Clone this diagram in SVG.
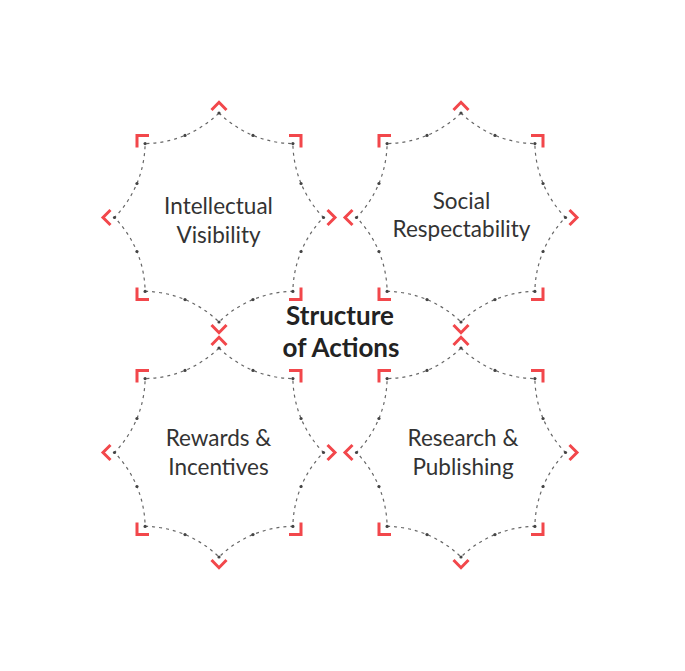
<svg xmlns="http://www.w3.org/2000/svg" xmlns:xlink="http://www.w3.org/1999/xlink" width="685" height="671" viewBox="0 0 685 671">
  <style>
    .outline { fill: none; stroke: #666; stroke-width: 1.2; stroke-dasharray: 3 4; }
    .dot { fill: #444; }
    .mark { fill: none; stroke: #f2474b; stroke-width: 3; stroke-linecap: butt; stroke-linejoin: miter; }
    .label { font-family: "Lato", "Noto Sans", "Liberation Sans", sans-serif; font-size: 22.5px; fill: #333; text-anchor: middle; }
    .title { font-family: "Lato", "Noto Sans", "Liberation Sans", sans-serif; font-size: 26px; font-weight: bold; fill: #222; text-anchor: middle; }
  </style>
  <defs>
    <g id="badge">
      <path class="outline" d="M0,-104.5 A108,108 0 0 0 73.89,-73.89 A108,108 0 0 0 104.5,0 A108,108 0 0 0 73.89,73.89 A108,108 0 0 0 0,104.5 A108,108 0 0 0 -73.89,73.89 A108,108 0 0 0 -104.5,0 A108,108 0 0 0 -73.89,-73.89 A108,108 0 0 0 0,-104.5 Z"/>
      <g class="dot">
        <circle cx="0" cy="-104.5" r="1.6"/>
        <circle cx="73.89" cy="-73.89" r="1.6"/>
        <circle cx="104.5" cy="0" r="1.6"/>
        <circle cx="73.89" cy="73.89" r="1.6"/>
        <circle cx="0" cy="104.5" r="1.6"/>
        <circle cx="-73.89" cy="73.89" r="1.6"/>
        <circle cx="-104.5" cy="0" r="1.6"/>
        <circle cx="-73.89" cy="-73.89" r="1.6"/>
        <circle cx="33.98" cy="-82.04" r="1.6"/>
        <circle cx="82.04" cy="-33.98" r="1.6"/>
        <circle cx="82.04" cy="33.98" r="1.6"/>
        <circle cx="33.98" cy="82.04" r="1.6"/>
        <circle cx="-33.98" cy="82.04" r="1.6"/>
        <circle cx="-82.04" cy="33.98" r="1.6"/>
        <circle cx="-82.04" cy="-33.98" r="1.6"/>
        <circle cx="-33.98" cy="-82.04" r="1.6"/>
      </g>
      <g class="mark">
        <path d="M-7.5,-107.5 L0,-115.2 L7.5,-107.5"/>
        <path d="M-7.5,107.5 L0,115.2 L7.5,107.5"/>
        <path d="M-108.5,-7.5 L-116,0 L-108.5,7.5"/>
        <path d="M108.5,-7.5 L116,0 L108.5,7.5"/>
        <path d="M70,-82 H82 V-70"/>
        <path d="M-70,-82 H-82 V-70"/>
        <path d="M70,82 H82 V70"/>
        <path d="M-70,82 H-82 V70"/>
      </g>
    </g>
  </defs>

  <g id="connectors"></g>

  <g id="node-intellectual-visibility">
    <use xlink:href="#badge" href="#badge" transform="translate(219,217.5)"/>
    <text class="label" x="218.5" y="214">Intellectual</text>
    <text class="label" x="218.5" y="243">Visibility</text>
  </g>

  <g id="node-social-respectability">
    <use xlink:href="#badge" href="#badge" transform="translate(461,217.5)"/>
    <text class="label" x="461.5" y="208.5">Social</text>
    <text class="label" x="461.5" y="237">Respectability</text>
  </g>

  <g id="node-rewards-incentives">
    <use xlink:href="#badge" href="#badge" transform="translate(219,452.5)"/>
    <text class="label" x="218.5" y="446">Rewards &amp;</text>
    <text class="label" x="218.5" y="474.5">Incentives</text>
  </g>

  <g id="node-research-publishing">
    <use xlink:href="#badge" href="#badge" transform="translate(461,452.5)"/>
    <text class="label" x="463" y="446">Research &amp;</text>
    <text class="label" x="463" y="475">Publishing</text>
  </g>

  <g id="node-structure-of-actions">
    <text class="title" x="340" y="324.5">Structure</text>
    <text class="title" x="341" y="357">of Actions</text>
  </g>
</svg>
